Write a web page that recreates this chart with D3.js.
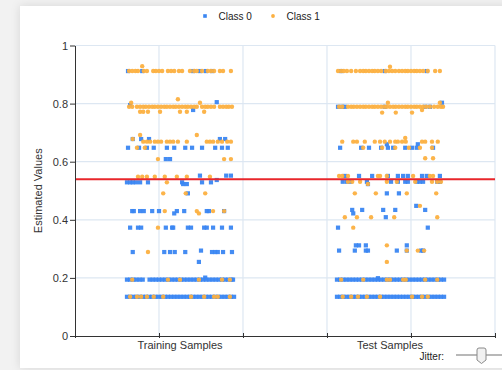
<!DOCTYPE html>
<html><head><meta charset="utf-8">
<script src="https://cdn.jsdelivr.net/npm/d3@7"></script>
<style>
html,body{margin:0;padding:0;background:#f2f2f2;overflow:hidden}
svg{display:block;font-family:"Liberation Sans",Arial,sans-serif}
</style>
</head><body>
<svg id="chart" width="502" height="370"></svg>
<script>
const groups = ["Training Samples", "Test Samples"];
const groupPositions = [1.25, 3.75];
const xTicks = [0, 1, 2, 3, 4, 5];
const yTicks = [0, 0.2, 0.4, 0.6, 0.8, 1];
const seriesNames = ["Class 0", "Class 1"];
const seriesColors = ["#3a86f2", "#fcb040"];
const threshold = 0.54;
const jitterAmount = 0.625;
const jitterLabel = "Jitter:";
const yTitle = "Estimated Values";

// each entry: [estimated value, [jitter positions of samples, -1..1]]
const trainClass0 = [
  [0.912, [-0.99, -0.72, 0.25, 0.38, 0.49, 0.61]],
  [0.805, [0.70]], [0.795, [-0.95]], [0.778, [0.25]],
  [0.678, [-0.90, -0.74, -0.59, 0.76, 0.86]],
  [0.648, [-0.99, -0.78, -0.63, -0.50, -0.25, -0.11, 0.10, 0.23, 0.42, 0.67, 0.80, 0.91]],
  [0.609, [-0.27, -0.19]],
  [0.552, [0.38, 0.88, 0.97]],
  [0.537, [0.70]],
  [0.529, [-1.01, -0.95, -0.90, -0.84, -0.76, -0.61, 0.04, 0.42, 0.59]],
  [0.523, [0.06, 0.13]],
  [0.491, [0.15]],
  [0.430, [-0.91, -0.88, -0.76, -0.69, -0.53, -0.40, -0.06, 0.08, 0.51, 0.55, 0.84]],
  [0.422, [-0.11]],
  [0.373, [-0.95, -0.80, -0.74, -0.27, -0.15, -0.13, 0.15, 0.21, 0.46, 0.51, 0.63, 0.80, 0.97]],
  [0.294, [0.40]],
  [0.289, [-0.90, -0.30, -0.19, -0.10, 0.10, 0.61, 0.67, 0.72, 0.82, 0.99]],
  [0.255, [0.36]],
  [0.201, [0.48]],
  [0.194, [-1.01, -0.95, -0.89, -0.83, -0.77, -0.71, -0.58, -0.52, -0.46, -0.40, -0.34, -0.28, -0.22, -0.16, -0.10, -0.04, 0.02, 0.08, 0.14, 0.20, 0.26, 0.32, 0.38, 0.44, 0.50, 0.56, 0.62, 0.68, 0.74, 0.80, 0.86, 0.92, 0.98, 1.01]],
  [0.135, [-1.01, -0.95, -0.89, -0.83, -0.77, -0.71, -0.65, -0.59, -0.53, -0.47, -0.41, -0.35, -0.29, -0.23, -0.17, -0.11, -0.05, 0.01, 0.07, 0.13, 0.19, 0.25, 0.31, 0.37, 0.43, 0.49, 0.55, 0.61, 0.67, 0.73, 0.79, 0.85, 0.91, 0.97, 1.03]]
];
const trainClass1 = [
  [0.929, [-0.72]],
  [0.912, [-0.97, -0.91, -0.85, -0.80, -0.69, -0.63, -0.51, -0.46, -0.40, -0.34, -0.23, -0.17, -0.11, -0.02, 0.04, 0.19, 0.27, 0.32, 0.42, 0.53, 0.59, 0.65, 0.76, 0.82, 0.97]],
  [0.815, [-0.04]],
  [0.803, [-0.93, 0.38]],
  [0.789, [-0.97, -0.91, -0.82, -0.76, -0.70, -0.65, -0.59, -0.53, -0.48, -0.42, -0.36, -0.30, -0.25, -0.19, -0.13, -0.08, -0.02, 0.04, 0.10, 0.15, 0.21, 0.27, 0.32, 0.42, 0.48, 0.53, 0.59, 0.65, 0.76, 0.82, 0.88, 0.93, 0.99]],
  [0.772, [-0.76, -0.70, -0.61, -0.38, 0.00, 0.13, 0.46]],
  [0.692, [-0.76, 0.32]],
  [0.678, [-0.90]],
  [0.669, [-0.70, -0.63, -0.57, -0.48, -0.42, -0.36, -0.25, -0.19, -0.13, -0.04, 0.13, 0.51, 0.57, 0.63, 0.72, 0.80, 0.90, 0.97]],
  [0.648, [-0.82, -0.67]],
  [0.609, [-0.42, 0.84, 0.97]],
  [0.548, [-0.80, -0.72, -0.63, -0.48, -0.29, -0.06, 0.13, 0.57]],
  [0.529, [-0.25]],
  [0.491, [-0.32, 0.11, 0.48]],
  [0.430, [-0.29, 0.32, 0.63, 0.84]],
  [0.422, [0.36]],
  [0.373, [-0.42]],
  [0.289, [-0.61]],
  [0.194, [-0.91, -0.23, 0.00, 0.36, 0.80, 0.95]],
  [0.135, [-0.95, -0.82, -0.74, -0.63, -0.50, -0.32, 0.21, 0.46, 0.65, 0.72, 0.95]]
];
const testClass0 = [
  [0.912, [-0.93, -0.10, 0.70]],
  [0.803, [0.99]],
  [0.789, [-0.99, -0.91, -0.86, -0.10, 0.67, 0.76]],
  [0.660, [-0.06, 0.53]],
  [0.648, [-0.95, -0.55, -0.40, -0.17, -0.04, 0.06, 0.29, 0.42, 0.51, 0.82]],
  [0.551, [-0.86, -0.59, -0.34, -0.04, 0.15, 0.25, 0.34, 0.61, 0.70, 0.95]],
  [0.531, [-0.90, -0.82, -0.76, -0.44, 0.02, 0.15, 0.29, 0.34, 0.51, 0.57, 0.63, 0.90, 0.95]],
  [0.523, [-0.42]],
  [0.491, [-0.06, 0.17]],
  [0.448, [0.50]],
  [0.434, [-0.72, -0.53, -0.13, 0.10, 0.67]],
  [0.422, [-0.70]],
  [0.409, [-0.08]],
  [0.373, [-0.99, 0.72]],
  [0.312, [-0.65, -0.59, -0.46, 0.32]],
  [0.294, [-0.97, -0.67, -0.46, -0.42, 0.13, 0.32, 0.59, 0.63]],
  [0.199, [-0.23]],
  [0.194, [-1.01, -0.95, -0.89, -0.83, -0.77, -0.71, -0.65, -0.59, -0.53, -0.47, -0.41, -0.35, -0.29, -0.23, -0.17, -0.11, -0.05, 0.01, 0.07, 0.13, 0.19, 0.25, 0.31, 0.37, 0.43, 0.49, 0.55, 0.61, 0.67, 0.73, 0.79, 0.85, 0.91, 0.97, 1.03]],
  [0.135, [-1.01, -0.95, -0.89, -0.83, -0.77, -0.71, -0.65, -0.59, -0.53, -0.47, -0.41, -0.35, -0.29, -0.23, -0.17, -0.11, -0.05, 0.01, 0.07, 0.13, 0.19, 0.25, 0.31, 0.37, 0.43, 0.49, 0.55, 0.61, 0.67, 0.73, 0.79, 0.85, 0.91, 0.97, 1.03]]
];
const testClass1 = [
  [0.927, [0.00]],
  [0.912, [-0.99, -0.93, -0.88, -0.82, -0.74, -0.65, -0.57, -0.51, -0.46, -0.40, -0.34, -0.29, -0.23, -0.17, -0.08, -0.02, 0.04, 0.10, 0.17, 0.23, 0.29, 0.34, 0.40, 0.46, 0.51, 0.57, 0.63, 0.72, 0.86, 0.95]],
  [0.803, [-0.04, 0.95]],
  [0.789, [-0.97, -0.91, -0.80, -0.74, -0.69, -0.63, -0.57, -0.51, -0.46, -0.40, -0.34, -0.29, -0.23, -0.17, -0.11, -0.06, 0.00, 0.06, 0.11, 0.17, 0.23, 0.29, 0.34, 0.40, 0.46, 0.51, 0.57, 0.63, 0.69, 0.76, 0.84, 0.91, 0.97, 1.01]],
  [0.778, [0.61]],
  [0.769, [-0.15, 0.11, 0.42]],
  [0.682, [0.29]],
  [0.669, [-0.91, -0.70, -0.63, -0.48, -0.29, -0.19, -0.10, 0.00, 0.10, 0.15, 0.23, 0.30, 0.61, 0.67, 0.80, 0.91]],
  [0.648, [-0.51, -0.15, 0.10, 0.36, 0.57, 0.80]],
  [0.612, [0.67, 0.82]],
  [0.551, [-0.97, -0.91, -0.80, -0.23, -0.19, -0.06, 0.44, 0.76, 0.82]],
  [0.531, [-0.80, -0.72, -0.57, -0.06, 0.13, 0.48, 0.80, 0.90, 0.97]],
  [0.523, [-0.42]],
  [0.491, [-0.67, -0.27, 0.32, 0.88]],
  [0.448, [0.57]],
  [0.409, [-0.86, -0.63, -0.36, 0.08, 0.90]],
  [0.373, [-0.70]],
  [0.312, [-0.06]],
  [0.294, [0.32, 0.53, 0.65]],
  [0.255, [-0.06]],
  [0.194, [-0.93, -0.51, -0.06, 0.00, 0.25, 0.30, 0.67, 0.90]],
  [0.135, [-0.90, -0.74, -0.61, -0.44, -0.19, 0.42, 0.61, 0.72]]
];

const seriesByGroup = [[trainClass0, trainClass1], [testClass0, testClass1]];

const svg = d3.select("#chart");
const W = 502, H = 370;
const margin = {left: 75, right: 7, top: 45.5, bottom: 34};

// background + panel
const defs = svg.append("defs");
const sh = defs.append("filter").attr("id", "shadow").attr("x", "-10%").attr("y", "-10%").attr("width", "120%").attr("height", "120%");
sh.append("feDropShadow").attr("dx", 0).attr("dy", 0).attr("stdDeviation", 5).attr("flood-color", "#000").attr("flood-opacity", 0.12);
svg.append("rect").attr("width", W).attr("height", H).attr("fill", "#f2f2f2");
svg.append("rect").attr("x", 20).attr("y", 6).attr("width", W - 20 + 10).attr("height", 362)
  .attr("fill", "#fff").attr("filter", "url(#shadow)");

const x = d3.scaleLinear().domain([0, 5]).range([margin.left, W - margin.right]);
const y = d3.scaleLinear().domain([0, 1]).range([H - margin.bottom, margin.top]);

// grid
const grid = svg.append("g");
grid.selectAll("line.h").data(yTicks.filter(d => d > 0)).join("line")
  .attr("x1", x(0)).attr("x2", x(5)).attr("y1", d => y(d)).attr("y2", d => y(d))
  .attr("stroke", "#dde7f2").attr("stroke-width", 1.2);
grid.selectAll("line.v").data(xTicks.filter(d => d > 0)).join("line")
  .attr("x1", d => x(d)).attr("x2", d => x(d)).attr("y1", y(0)).attr("y2", y(1))
  .attr("stroke", "#dde7f2").attr("stroke-width", 1.2);

// points
const pts = [];
seriesByGroup.forEach((series, gi) => {
  series.forEach((levels, si) => {
    levels.forEach(([v, js]) => js.forEach(j => pts.push({gi, si, v, j})));
  });
});
const px = d => x(groupPositions[d.gi] + d.j * jitterAmount);
const plot = svg.append("g");
plot.selectAll("rect.c0").data(pts.filter(d => d.si === 0)).join("rect")
  .attr("x", d => px(d) - 2.1).attr("y", d => y(d.v) - 2.1)
  .attr("width", 4.2).attr("height", 4.2).attr("fill", seriesColors[0]).attr("opacity", 0.95);
plot.selectAll("circle.c1").data(pts.filter(d => d.si === 1)).join("circle")
  .attr("cx", d => px(d)).attr("cy", d => y(d.v)).attr("r", 2.2)
  .attr("fill", seriesColors[1]).attr("opacity", 0.95);

// threshold
svg.append("line").attr("x1", x(0)).attr("x2", x(5)).attr("y1", y(threshold)).attr("y2", y(threshold))
  .attr("stroke", "#e8262b").attr("stroke-width", 2);

// axes
const yAxis = svg.append("g").attr("transform", `translate(${x(0)},0)`)
  .call(d3.axisLeft(y).tickValues(yTicks).tickFormat(d3.format("")).tickSize(5).tickPadding(2).tickSizeOuter(0));
yAxis.select(".domain").attr("stroke", "#333");
yAxis.selectAll(".tick line").attr("stroke", "#333");
yAxis.selectAll(".tick text").attr("fill", "#333").style("font-size", "11px").style("font-family", "Liberation Sans, Arial, sans-serif");

const xAxis = svg.append("g").attr("transform", `translate(0,${y(0)})`)
  .call(d3.axisBottom(x).tickValues(xTicks).tickFormat("").tickSize(2).tickSizeOuter(0));
xAxis.select(".domain").attr("stroke", "#333");
xAxis.selectAll(".tick line").attr("stroke", "#333").attr("y1", -3).attr("y2", 2);

svg.append("g").selectAll("text").data(groups).join("text")
  .attr("x", (d, i) => x(groupPositions[i])).attr("y", y(0) + 12.5)
  .attr("text-anchor", "middle").attr("fill", "#333").style("font-size", "11px")
  .text(d => d);

// y title
svg.append("text").attr("transform", `translate(41.5,${(y(0) + y(1)) / 2}) rotate(-90)`)
  .attr("text-anchor", "middle").attr("fill", "#333").style("font-size", "11px").text(yTitle);

// legend
const lg = svg.append("g");
const legendX = [205, 273];
seriesNames.forEach((n, i) => {
  if (i === 0) lg.append("rect").attr("x", legendX[i] - 1.8).attr("y", 14.2).attr("width", 3.6).attr("height", 3.6).attr("fill", seriesColors[0]);
  else lg.append("circle").attr("cx", legendX[i]).attr("cy", 16).attr("r", 1.9).attr("fill", seriesColors[1]);
  lg.append("text").attr("x", legendX[i] + 13.5).attr("y", 19.7).attr("fill", "#222")
    .style("font-size", "10px").text(n);
});

// jitter slider
const sl = svg.append("g");
sl.append("text").attr("x", 444).attr("y", 360).attr("text-anchor", "end").attr("fill", "#222")
  .style("font-size", "10px").text(jitterLabel);
sl.append("line").attr("x1", 456).attr("x2", 502).attr("y1", 355).attr("y2", 355)
  .attr("stroke", "#b8b8b8").attr("stroke-width", 2);
sl.append("path").attr("d", "M477,350 Q477,348 479,348 L484,348 Q486,348 486,350 L486,360 L481.5,363.5 L477,360 Z")
  .attr("fill", "#f1f1f1").attr("stroke", "#8a8a8a").attr("stroke-width", 1);
</script>
</body></html>
